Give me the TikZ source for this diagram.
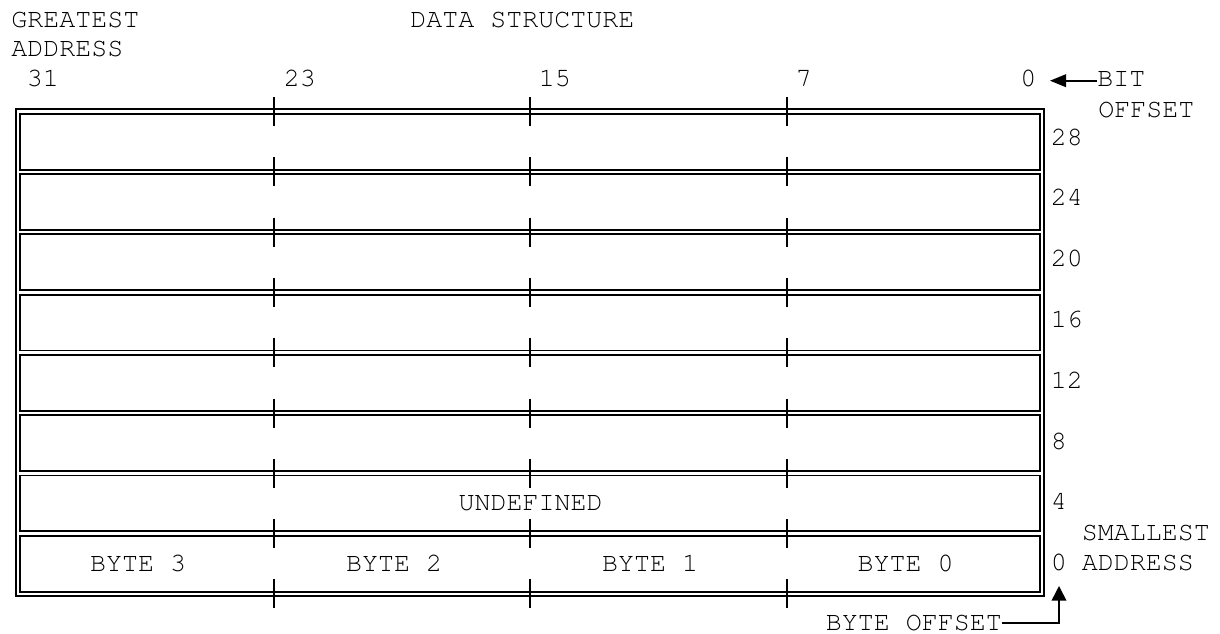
\documentclass[tikz,border=0pt]{standalone}
\usepackage[T1]{fontenc}
\usepackage{courier}
\usetikzlibrary{arrows.meta}
\begin{document}
\begin{tikzpicture}[x=0.75pt,y=-0.75pt,
  lbl/.style={inner sep=0pt,font=\fontsize{20}{24}\selectfont\ttfamily,text=black},
  lw/.style={anchor=base west},
  lc/.style={anchor=base},
  frame/.style={line width=1.4pt,black},
  tick/.style={line width=1.5pt,black},
  conn/.style={line width=1.2pt,black}]
\useasboundingbox (0,0) rectangle (1220,633);
% double-line frame
\draw[frame] (16,109.3) rectangle (1044,596.1);
\foreach \k in {0,...,7}{
  \pgfmathsetmacro{\ya}{111.5+60.3*\k+2.2}
  \pgfmathsetmacro{\yb}{111.5+60.3*(\k+1)-2.2}
  \draw[frame] (20.4,\ya) rectangle (1039.6,\yb);
}
% ticks
\foreach \k in {0,...,8}{
  \pgfmathsetmacro{\yc}{111.5+60.3*\k}
  \foreach \x in {273.5,530,786.5}{
    \draw[tick] (\x,\yc-14.5) -- (\x,\yc+14.5);
  }
}
% top texts
\node[lbl,lw] (greatest) at (11,27) {GREATEST};
\node[lbl,lw] (address) at (11,56) {ADDRESS};
\node[lbl,lw] (ds) at (410,27) {DATA STRUCTURE};
\node[lbl,lw] (b31) at (26.5,86) {31};
\node[lbl,lw] (b23) at (283.5,86) {23};
\node[lbl,lw] (b15) at (538.5,86) {15};
\node[lbl,lw] (b7) at (795.5,86) {7};
\node[lbl,lw] (b0) at (1020,86) {0};
\node[lbl,lw] (bit) at (1097,86) {BIT};
\node[lbl,lw] (offset) at (1098,117) {OFFSET};
\coordinate (bittip) at (1050,80.7);
\draw[conn,-{Triangle[length=12pt,width=9.5pt]}] (bit.west |- bittip) -- (bittip);
% row offsets
\foreach \v [count=\i from 0] in {28,24,20,16,12,8,4,0}{
  \node[lbl,lw] (r\v) at (1050.5,{145+60.83*\i}) {\v};
}
\node[lbl,lw] (smallest) at (1081.5,540) {SMALLEST};
\node[lbl,lw] (saddr) at (1081.5,570) {ADDRESS};
% cell texts
\node[lbl,lc] (undef) at (530.5,510) {UNDEFINED};
\node[lbl,lc] (byte3) at (138,571) {BYTE 3};
\node[lbl,lc] (byte2) at (394,571) {BYTE 2};
\node[lbl,lc] (byte1) at (650,571) {BYTE 1};
\node[lbl,lc] (byte0) at (905.5,571) {BYTE 0};
% byte offset
\node[lbl,lw] (byteoff) at (825.5,630) {BYTE OFFSET};
\coordinate (bytip) at (1059,586);
\draw[conn,-{Triangle[length=11pt,width=11pt]}] (byteoff.east |- 0,623) -| (bytip);
\end{tikzpicture}
\end{document}
